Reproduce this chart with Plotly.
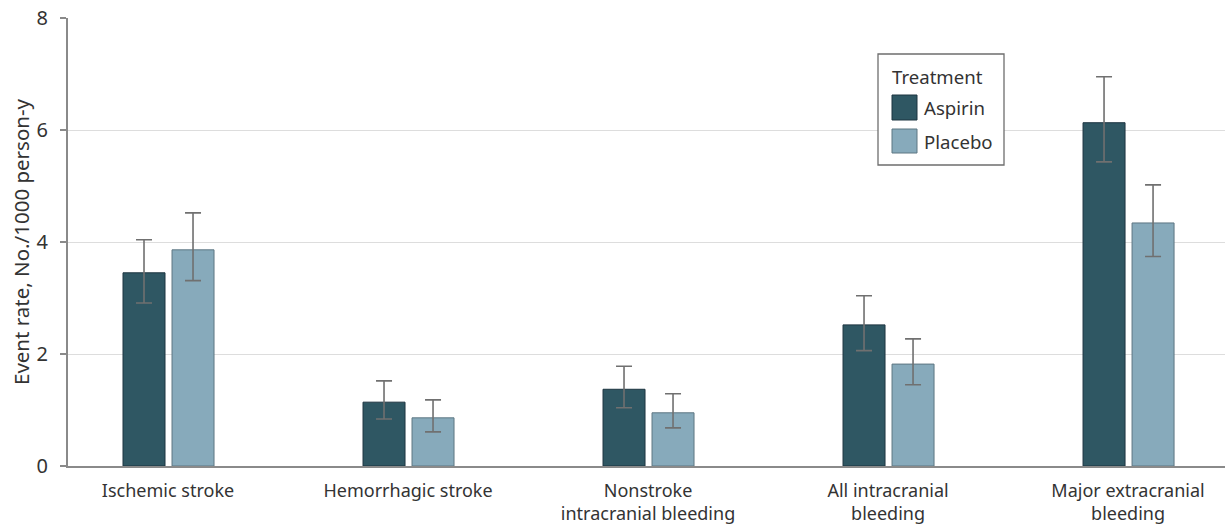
import plotly.graph_objects as go

categories = ["Ischemic stroke", "Hemorrhagic stroke", "Nonstroke<br>intracranial bleeding",
              "All intracranial<br>bleeding", "Major extracranial<br>bleeding"]
aspirin = [3.45, 1.14, 1.37, 2.52, 6.13]
aspirin_hi = [4.04, 1.52, 1.78, 3.04, 6.95]
aspirin_lo = [2.91, 0.84, 1.04, 2.06, 5.43]
placebo = [3.86, 0.86, 0.95, 1.82, 4.34]
placebo_hi = [4.52, 1.18, 1.29, 2.27, 5.02]
placebo_lo = [3.31, 0.61, 0.68, 1.45, 3.74]
y_ticks = [0, 2, 4, 6, 8]

FONT = "Noto Sans"
TXT = "#333333"
C_ASP, C_ASP_LINE = "#2f5763", "#1d3440"
C_PLA, C_PLA_LINE = "#87aabb", "#5d7682"
x = list(range(len(categories)))

W, H = 1225, 525
# plot area on screen: x 68..1225, y 18..466 (page body margin removed below)
SL, ST, SR, SB = 68, 18, 1225, 466
ML, MT, MR, MB = SL, ST, W - SR, H - SB
PW, PH = SR - SL, SB - ST


def px(xs):
    return (xs - SL) / PW


def py(ys):
    return (SB - ys) / PH


def err(vals, hi, lo):
    return dict(type="data", symmetric=False,
                array=[h - v for h, v in zip(hi, vals)],
                arrayminus=[v - l for v, l in zip(vals, lo)],
                color="#707070", thickness=1.6, width=8)


fig = go.Figure()
fig.add_trace(go.Bar(x=x, y=aspirin, name="Aspirin", width=0.175, offset=-0.1875,
                     marker=dict(color=C_ASP, line=dict(color=C_ASP_LINE, width=1)),
                     error_y=err(aspirin, aspirin_hi, aspirin_lo)))
fig.add_trace(go.Bar(x=x, y=placebo, name="Placebo", width=0.175, offset=0.0167,
                     marker=dict(color=C_PLA, line=dict(color=C_PLA_LINE, width=1)),
                     error_y=err(placebo, placebo_hi, placebo_lo)))

# custom legend (box, title, swatches, labels)
shapes = [
    dict(type="rect", xref="paper", yref="paper", x0=px(878), x1=px(1004), y0=py(165), y1=py(54),
         line=dict(color="#6e6e6e", width=1.3), fillcolor="white", layer="above"),
    dict(type="rect", xref="paper", yref="paper", x0=px(892), x1=px(917), y0=py(120), y1=py(95),
         line=dict(color=C_ASP_LINE, width=1), fillcolor=C_ASP, layer="above"),
    dict(type="rect", xref="paper", yref="paper", x0=px(892), x1=px(917), y0=py(153), y1=py(129),
         line=dict(color=C_PLA_LINE, width=1), fillcolor=C_PLA, layer="above"),
]
annotations = [
    dict(text="Treatment", xref="paper", yref="paper", x=px(890), y=py(76), xanchor="left",
         yanchor="middle", showarrow=False, font=dict(size=18.6, color=TXT)),
    dict(text="Aspirin", xref="paper", yref="paper", x=px(922), y=py(107), xanchor="left",
         yanchor="middle", showarrow=False, font=dict(size=18.6, color=TXT)),
    dict(text="Placebo", xref="paper", yref="paper", x=px(922), y=py(141), xanchor="left",
         yanchor="middle", showarrow=False, font=dict(size=18.6, color=TXT)),
    dict(text="Event rate, No./1000 person-y", xref="paper", yref="paper", x=px(21), y=0.5,
         xanchor="center", yanchor="middle", textangle=-90, showarrow=False,
         font=dict(size=20.5, color=TXT)),
]

fig.update_layout(
    width=W, height=H,
    margin=dict(l=ML, r=MR, t=MT, b=MB),
    paper_bgcolor="white", plot_bgcolor="white",
    font=dict(family=FONT, color=TXT, size=18),
    barmode="overlay",
    showlegend=False,
    shapes=shapes,
    annotations=annotations,
    xaxis=dict(range=[-0.4167, 4.404], tickmode="array", tickvals=x, ticktext=categories,
               showgrid=False, showline=True, linecolor="#8a8a8a", linewidth=2,
               ticks="", ticklabelstandoff=7, ticklabeloverflow="allow",
               tickfont=dict(size=18, color=TXT), zeroline=False, automargin=False),
    yaxis=dict(range=[0, 8], tickmode="array", tickvals=y_ticks,
               showgrid=True, gridcolor="#dddddd", gridwidth=1,
               showline=True, linecolor="#8a8a8a", linewidth=2,
               ticks="outside", ticklen=6, tickcolor="#8a8a8a", tickwidth=1.5,
               ticklabelstandoff=8, ticklabeloverflow="allow",
               tickfont=dict(size=20, color=TXT), zeroline=False, automargin=False),
)

fig.write_html("out.html", config={"displayModeBar": False},
               post_script="document.body.style.margin='0';document.body.style.overflow='hidden';")
